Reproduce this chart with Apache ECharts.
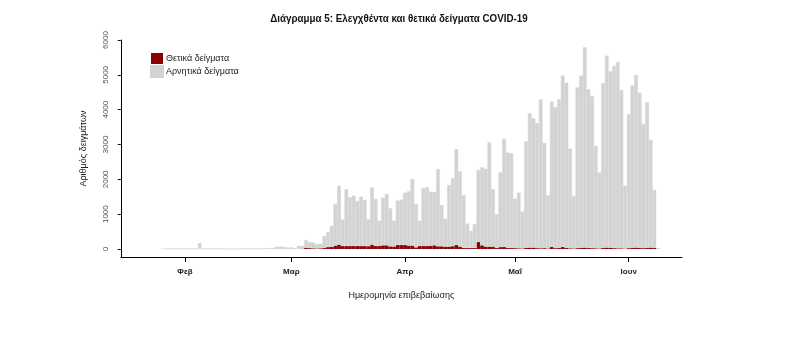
<!DOCTYPE html>
<html>
<head>
<meta charset="utf-8">
<script src="https://cdn.jsdelivr.net/npm/echarts@6/dist/echarts.min.js"></script>
<style>
  html, body { margin: 0; padding: 0; background: #fff; }
  #chart { width: 789px; height: 346px; }
</style>
</head>
<body>
<div id="chart"></div>
<script>
// Date axis extent (one category per day)
const axisStart = '2020-01-15';
const axisEnd = '2020-06-15';
// First day with recorded samples
const firstDate = '2020-01-26';

// Total tested samples per day
const tested = [
  // Jan 26-31
  10, 8, 10, 12, 10, 9,
  // Feb
  10, 12, 10, 8, 165, 10, 8, 12, 10, 9, 10, 8, 0, 0, 0, 10, 12, 10, 10, 12, 15, 12, 25, 20, 30, 65, 70, 60, 40,
  // Mar
  45, 20, 90, 90, 258, 200, 185, 140, 150, 373, 480, 665, 1292, 1818, 842, 1713, 1483, 1531, 1378, 1503,
  1407, 852, 1770, 1436, 813, 1474, 1579, 1167, 813, 1388, 1416,
  // Apr
  1617, 1655, 2010, 1292, 813, 1742, 1775, 1646, 1640, 2297, 1263, 866, 1837, 2029, 2866, 2230, 1540, 728, 520, 718,
  2268, 2345, 2300, 3060, 1718, 995, 2201, 3155, 2766, 2746,
  // May
  1445, 1617, 1072, 3090, 3895, 3751, 3615, 4297, 3045, 1540, 4230, 4075, 4297, 4977, 4776, 2880, 1522, 4637, 4977, 5790,
  4584, 4393, 2957, 2195, 4756, 5550, 5100, 5254, 5365, 4565, 1818,
  // Jun 1-9
  3870, 4690, 4996, 4488, 3589, 4211, 3129, 1694, 20
];

// Positive samples per day
const positive = [
  // Jan 26-31
  0, 0, 0, 0, 0, 0,
  // Feb
  0, 0, 0, 0, 0, 0, 0, 0, 0, 0, 0, 0, 0, 0, 0, 0, 0, 0, 0, 0, 0, 0, 0, 0, 0, 1, 2, 1, 3,
  // Mar
  2, 2, 3, 10, 35, 25, 20, 15, 20, 30, 55, 60, 95, 125, 85, 85, 85, 85, 85, 85,
  85, 80, 124, 86, 86, 105, 105, 75, 70, 115, 115,
  // Apr
  115, 96, 96, 48, 86, 86, 86, 90, 105, 77, 77, 67, 67, 80, 115, 67, 30, 29, 29, 29,
  200, 105, 67, 67, 67, 29, 55, 60, 30, 30,
  // May
  25, 20, 15, 35, 40, 40, 25, 20, 25, 15, 60, 25, 30, 60, 30, 20, 15, 25, 35, 40,
  30, 25, 20, 15, 30, 40, 35, 25, 20, 20, 10,
  // Jun 1-9
  25, 35, 40, 30, 25, 30, 40, 30, 5
];

// Month ticks on the date axis
const monthStarts = ['2020-02-01', '2020-03-01', '2020-04-01', '2020-05-01', '2020-06-01'];
const monthLabels = ['Φεβ', 'Μαρ', 'Απρ', 'Μαΐ', 'Ιουν'];

// Y axis tick values
const yTicks = [0, 1000, 2000, 3000, 4000, 5000, 6000];

const DAY = 86400000;
const toTime = s => Date.parse(s + 'T00:00:00Z');
const isoDay = t => new Date(t).toISOString().slice(0, 10);

const days = [];
for (let t = toTime(axisStart); t <= toTime(axisEnd); t += DAY) days.push(isoDay(t));

const offset = days.indexOf(firstDate);
const posData = days.map(() => null);
const negData = days.map(() => null);
tested.forEach((v, i) => {
  posData[offset + i] = positive[i];
  negData[offset + i] = v - positive[i];
});

const isMonthStart = (idx, val) => monthStarts.indexOf(val) !== -1;

const sans = "'Liberation Sans', Arial, sans-serif";
const RED = '#8B0000';
const GREY = '#D3D3D3';

const chart = echarts.init(document.getElementById('chart'), null, { renderer: 'canvas' });
chart.setOption({
  animation: false,
  backgroundColor: '#ffffff',
  graphic: [{
    type: 'text',
    x: 399,
    y: 18.5,
    scaleX: 0.89,
    style: {
      text: 'Διάγραμμα 5: Ελεγχθέντα και θετικά δείγματα COVID-19',
      font: "bold 11px 'Liberation Sans', Arial, sans-serif",
      fill: '#111',
      align: 'center',
      verticalAlign: 'middle'
    }
  }],
  legend: {
    orient: 'vertical',
    left: 150,
    top: 53,
    padding: 0,
    itemWidth: 12,
    itemHeight: 11,
    itemGap: 1,
    icon: 'rect',
    textStyle: { fontFamily: sans, fontSize: 9, color: '#222', padding: [0, 0, 0, -2] },
    data: ['Θετικά δείγματα', 'Αρνητικά δείγματα']
  },
  grid: { left: 120.8, right: 107.1, top: 40, bottom: 89, containLabel: false },
  xAxis: {
    type: 'category',
    data: days,
    boundaryGap: true,
    name: 'Ημερομηνία επιβεβαίωσης',
    nameLocation: 'middle',
    nameGap: 34,
    nameTextStyle: { fontFamily: sans, fontSize: 9, color: '#222' },
    axisLine: { show: true, onZero: false, lineStyle: { color: '#000', width: 1 } },
    axisTick: { show: true, length: 5, alignWithLabel: true, interval: isMonthStart, lineStyle: { color: '#000' } },
    axisLabel: {
      interval: isMonthStart,
      margin: 11,
      fontFamily: sans,
      fontSize: 8,
      fontWeight: 'bold',
      color: '#222',
      formatter: v => monthLabels[monthStarts.indexOf(v)] || ''
    },
    splitLine: { show: false }
  },
  yAxis: {
    type: 'value',
    min: -230,
    max: 6000,
    name: 'Αριθμός δειγμάτων',
    nameLocation: 'middle',
    nameGap: 33,
    nameTextStyle: { fontFamily: sans, fontSize: 9, color: '#222' },
    axisLine: { show: true, onZero: false, lineStyle: { color: '#000', width: 1 } },
    axisTick: { show: true, length: 3, customValues: yTicks, lineStyle: { color: '#000' } },
    axisLabel: {
      customValues: yTicks,
      rotate: 90,
      margin: 11,
      fontFamily: sans,
      fontSize: 8,
      color: '#555',
      formatter: v => String(v)
    },
    splitLine: { show: false }
  },
  series: [
    {
      name: 'Θετικά δείγματα',
      type: 'bar',
      stack: 'samples',
      barCategoryGap: '0%',
      itemStyle: { color: RED },
      data: posData
    },
    {
      name: 'Αρνητικά δείγματα',
      type: 'bar',
      stack: 'samples',
      barCategoryGap: '0%',
      itemStyle: { color: GREY, borderColor: GREY, borderWidth: 0.5 },
      data: negData
    }
  ]
});
</script>
</body>
</html>
